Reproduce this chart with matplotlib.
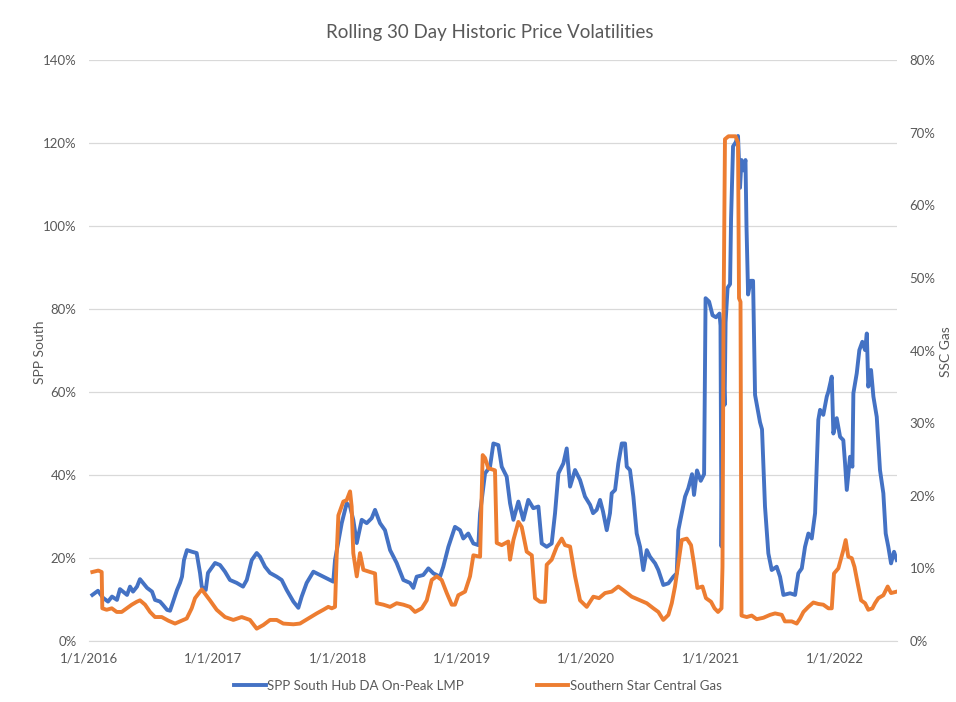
import matplotlib
matplotlib.use('Agg')
import matplotlib.pyplot as plt
from matplotlib.ticker import FuncFormatter, MultipleLocator

# dates as decimal years, values in percent
spp_year = [2016.027, 2016.072, 2016.113, 2016.153, 2016.185, 2016.225, 2016.249, 2016.274, 2016.306,
            2016.330, 2016.354, 2016.386, 2016.410, 2016.434, 2016.467, 2016.507, 2016.531, 2016.571,
            2016.595, 2016.628, 2016.652, 2016.668, 2016.708, 2016.732, 2016.748, 2016.764, 2016.788,
            2016.829, 2016.866, 2016.893, 2016.907, 2016.939, 2016.957, 2017.014, 2017.054, 2017.094,
            2017.134, 2017.188, 2017.239, 2017.269, 2017.309, 2017.349, 2017.376, 2017.416, 2017.456,
            2017.510, 2017.550, 2017.590, 2017.644, 2017.684, 2017.711, 2017.751, 2017.805, 2017.858,
            2017.912, 2017.965, 2017.979, 2018.033, 2018.073, 2018.100, 2018.126, 2018.154, 2018.194,
            2018.234, 2018.274, 2018.301, 2018.341, 2018.381, 2018.422, 2018.475, 2018.529, 2018.582,
            2018.609, 2018.636, 2018.689, 2018.730, 2018.770, 2018.824, 2018.850, 2018.891, 2018.944,
            2018.985, 2019.011, 2019.051, 2019.092, 2019.132, 2019.146, 2019.186, 2019.226, 2019.253,
            2019.293, 2019.320, 2019.360, 2019.387, 2019.414, 2019.454, 2019.494, 2019.534, 2019.574,
            2019.615, 2019.642, 2019.682, 2019.722, 2019.749, 2019.776, 2019.816, 2019.843, 2019.870,
            2019.910, 2019.950, 2019.990, 2020.031, 2020.055, 2020.084, 2020.111, 2020.135, 2020.165,
            2020.191, 2020.205, 2020.232, 2020.258, 2020.286, 2020.312, 2020.326, 2020.352, 2020.379,
            2020.406, 2020.433, 2020.459, 2020.487, 2020.513, 2020.554, 2020.580, 2020.620, 2020.661,
            2020.701, 2020.728, 2020.741, 2020.768, 2020.795, 2020.821, 2020.851, 2020.867, 2020.891,
            2020.921, 2020.948, 2020.960, 2020.988, 2021.016, 2021.044, 2021.072, 2021.080, 2021.088,
            2021.101, 2021.113, 2021.121, 2021.137, 2021.157, 2021.165, 2021.181, 2021.201, 2021.221,
            2021.237, 2021.249, 2021.265, 2021.281, 2021.289, 2021.302, 2021.322, 2021.342, 2021.358,
            2021.398, 2021.414, 2021.438, 2021.465, 2021.492, 2021.532, 2021.559, 2021.586, 2021.640,
            2021.680, 2021.706, 2021.734, 2021.760, 2021.787, 2021.814, 2021.841, 2021.867, 2021.881,
            2021.907, 2021.935, 2021.948, 2021.975, 2021.988, 2022.015, 2022.042, 2022.068, 2022.082,
            2022.096, 2022.122, 2022.141, 2022.149, 2022.176, 2022.197, 2022.221, 2022.243, 2022.257,
            2022.269, 2022.291, 2022.310, 2022.337, 2022.363, 2022.390, 2022.409, 2022.430, 2022.452,
            2022.476, 2022.498]
spp_vol = [11.1, 12.1, 10.4, 9.5, 10.7, 9.9, 12.5, 11.9, 11.1,
           13.1, 11.9, 13.1, 14.9, 14.0, 12.8, 11.9, 9.9, 9.5,
           8.7, 7.5, 7.3, 8.7, 12.3, 14.0, 15.5, 19.5, 21.9,
           21.5, 21.2, 16.4, 13.1, 12.3, 16.4, 18.8, 18.3, 16.7,
           14.7, 14.0, 13.1, 14.7, 19.5, 21.2, 20.3, 17.9, 16.4,
           15.5, 14.7, 12.3, 9.5, 8.0, 10.7, 14.0, 16.7, 15.9,
           15.1, 14.3, 19.5, 28.4, 33.2, 32.4, 29.2, 23.6, 29.2,
           28.4, 29.6, 31.6, 28.4, 26.7, 21.9, 18.8, 14.7, 14.0,
           12.8, 15.5, 15.9, 17.5, 16.3, 15.5, 17.9, 22.7, 27.5,
           26.7, 24.7, 25.9, 23.5, 23.1, 30.8, 40.4, 42.0, 47.6,
           47.2, 42.0, 39.6, 33.2, 29.2, 33.6, 29.2, 34.0, 32.0,
           32.4, 23.5, 22.7, 23.5, 30.8, 40.4, 42.8, 46.4, 37.2,
           41.2, 38.8, 34.8, 32.8, 30.8, 31.6, 34.0, 31.2, 26.7,
           30.8, 35.6, 36.4, 42.8, 47.6, 47.6, 42.0, 41.2, 34.8,
           25.9, 22.7, 17.1, 21.9, 20.3, 18.7, 17.1, 13.5, 13.9,
           15.5, 16.3, 26.7, 30.8, 34.8, 36.8, 40.2, 35.2, 41.1,
           38.6, 40.2, 82.6, 81.8, 78.5, 78.0, 78.9, 76.0, 22.8,
           67.7, 56.9, 76.8, 85.1, 86.0, 101.7, 119.2, 120.1, 121.7,
           109.2, 115.9, 113.4, 115.9, 100.1, 83.5, 86.8, 86.8, 59.3,
           52.7, 51.0, 32.4, 21.1, 17.1, 17.9, 15.5, 11.1, 11.5,
           11.1, 16.3, 17.5, 22.7, 25.9, 24.7, 30.8, 53.3, 55.7,
           54.5, 58.9, 60.1, 63.7, 50.0, 53.7, 49.2, 48.4, 42.8,
           36.4, 44.4, 42.0, 59.7, 64.5, 70.1, 72.1, 70.1, 74.1,
           61.3, 65.3, 58.9, 54.0, 41.2, 35.6, 25.9, 22.7, 18.7,
           21.5, 19.5]

ssc_year = [2016.027, 2016.075, 2016.102, 2016.107, 2016.142, 2016.183, 2016.223, 2016.263, 2016.303,
            2016.344, 2016.384, 2016.410, 2016.451, 2016.491, 2016.531, 2016.585, 2016.638, 2016.692,
            2016.746, 2016.786, 2016.826, 2016.853, 2016.907, 2016.973, 2017.027, 2017.094, 2017.161,
            2017.228, 2017.295, 2017.349, 2017.402, 2017.456, 2017.510, 2017.563, 2017.644, 2017.697,
            2017.764, 2017.832, 2017.885, 2017.925, 2017.953, 2017.979, 2017.993, 2018.006, 2018.046,
            2018.073, 2018.100, 2018.113, 2018.126, 2018.154, 2018.180, 2018.207, 2018.261, 2018.301,
            2018.315, 2018.368, 2018.422, 2018.475, 2018.529, 2018.582, 2018.623, 2018.677, 2018.717,
            2018.757, 2018.797, 2018.837, 2018.878, 2018.918, 2018.944, 2018.971, 2019.025, 2019.065,
            2019.092, 2019.146, 2019.159, 2019.167, 2019.186, 2019.212, 2019.266, 2019.280, 2019.320,
            2019.373, 2019.387, 2019.414, 2019.454, 2019.481, 2019.521, 2019.562, 2019.588, 2019.628,
            2019.668, 2019.682, 2019.722, 2019.763, 2019.803, 2019.829, 2019.870, 2019.910, 2019.950,
            2020.004, 2020.057, 2020.103, 2020.151, 2020.205, 2020.258, 2020.298, 2020.366, 2020.433,
            2020.487, 2020.540, 2020.580, 2020.620, 2020.661, 2020.688, 2020.714, 2020.741, 2020.768,
            2020.809, 2020.843, 2020.867, 2020.894, 2020.935, 2020.963, 2021.004, 2021.032, 2021.060,
            2021.088, 2021.096, 2021.104, 2021.116, 2021.144, 2021.201, 2021.221, 2021.229, 2021.241,
            2021.249, 2021.291, 2021.331, 2021.371, 2021.425, 2021.479, 2021.519, 2021.573, 2021.598,
            2021.653, 2021.693, 2021.720, 2021.747, 2021.787, 2021.827, 2021.867, 2021.907, 2021.948,
            2021.975, 2021.993, 2022.028, 2022.050, 2022.068, 2022.087, 2022.108, 2022.136, 2022.158,
            2022.184, 2022.211, 2022.243, 2022.269, 2022.302, 2022.323, 2022.350, 2022.390, 2022.425,
            2022.452, 2022.498]
ssc_vol = [9.5, 9.7, 9.5, 4.5, 4.3, 4.5, 4.0, 4.0, 4.5,
           5.0, 5.4, 5.6, 5.0, 4.0, 3.3, 3.3, 2.8, 2.4,
           2.8, 3.1, 4.5, 5.9, 7.1, 5.6, 4.3, 3.3, 2.9,
           3.3, 2.9, 1.7, 2.2, 2.9, 2.9, 2.4, 2.3, 2.4,
           3.1, 3.8, 4.3, 4.7, 4.5, 4.7, 12.1, 17.3, 19.2,
           19.4, 20.6, 18.5, 12.1, 8.9, 12.1, 9.8, 9.5, 9.3,
           5.2, 5.0, 4.7, 5.2, 5.0, 4.7, 4.0, 4.5, 5.6,
           8.4, 8.9, 8.4, 6.6, 5.0, 5.0, 6.3, 6.8, 8.9,
           11.8, 11.6, 20.3, 25.6, 25.2, 23.8, 23.5, 13.5, 13.2,
           13.7, 11.2, 13.9, 16.4, 15.7, 12.3, 11.8, 5.9, 5.4,
           5.4, 10.5, 11.2, 13.0, 14.1, 13.2, 13.0, 8.9, 5.6,
           4.7, 6.1, 5.9, 6.6, 6.8, 7.5, 7.0, 6.1, 5.6,
           5.2, 4.5, 4.0, 2.9, 3.6, 5.2, 7.5, 10.7, 13.9,
           14.1, 13.2, 10.6, 7.3, 7.5, 5.9, 5.4, 4.5, 4.0,
           4.5, 10.2, 43.4, 69.1, 69.5, 69.5, 68.6, 47.2, 46.7,
           3.5, 3.3, 3.5, 3.0, 3.2, 3.6, 3.8, 3.6, 2.7,
           2.7, 2.4, 3.1, 4.0, 4.7, 5.3, 5.1, 5.0, 4.5,
           4.5, 9.3, 10.0, 11.4, 12.5, 13.9, 11.6, 11.4, 10.2,
           7.9, 5.6, 5.2, 4.3, 4.5, 5.2, 5.9, 6.3, 7.5,
           6.6, 6.8]

tick_years = [2016, 2017, 2018, 2019, 2020, 2021, 2022]
tick_labels = ['1/1/2016', '1/1/2017', '1/1/2018', '1/1/2019', '1/1/2020', '1/1/2021', '1/1/2022']

grey = '#595959'
plt.rcParams['font.family'] = ['Lato', 'DejaVu Sans']

fig = plt.figure(figsize=(9.56, 7.02), dpi=100)
ax = fig.add_axes([0.0931, 0.0869, 0.8452, 0.8276])
ax2 = ax.twinx()

ax.plot(spp_year, spp_vol, color='#4472C4', lw=2.8, label='SPP South Hub DA On-Peak LMP')
ax2.plot(ssc_year, ssc_vol, color='#ED7D31', lw=2.8, label='Southern Star Central Gas')

ax.set_xlim(2016, 2022.5)
ax.set_ylim(0, 140)
ax2.set_ylim(0, 80)
ax.yaxis.set_major_locator(MultipleLocator(20))
ax2.yaxis.set_major_locator(MultipleLocator(10))
pct = FuncFormatter(lambda v, p: '%d%%' % v)
ax.yaxis.set_major_formatter(pct)
ax2.yaxis.set_major_formatter(pct)
ax.set_xticks(tick_years)
ax.set_xticklabels(tick_labels)

ax.grid(axis='y', color='#D9D9D9', lw=0.9)
ax.set_axisbelow(True)
for a in (ax, ax2):
    for s in a.spines.values():
        s.set_visible(False)
    a.tick_params(length=0, colors=grey, labelsize=9.5)
ax.spines['bottom'].set_visible(True)
ax.spines['bottom'].set_color('#D9D9D9')
ax.tick_params(axis='y', pad=9)
ax2.tick_params(axis='y', pad=9)
ax.tick_params(axis='x', pad=8)

fig.text(0.5125, 0.954, 'Rolling 30 Day Historic Price Volatilities', ha='center', va='center',
         fontsize=13.5, color=grey)
fig.text(40 / 956, 1 - 352 / 702, 'SPP South', rotation=90, ha='center', va='center',
         fontsize=10, color=grey)
fig.text(946 / 956, 1 - 352 / 702, 'SSC Gas', rotation=90, ha='center', va='center',
         fontsize=10, color=grey)

h1, l1 = ax.get_legend_handles_labels()
h2, l2 = ax2.get_legend_handles_labels()
fig.legend(h1 + h2, l1 + l2, loc='center', bbox_to_anchor=(0.5, 1 - 686 / 702), ncol=2,
           frameon=False, fontsize=9.5, labelcolor=grey, handlelength=2.4,
           handletextpad=0.1, columnspacing=5.5)

fig.savefig('out.png', dpi=100)
